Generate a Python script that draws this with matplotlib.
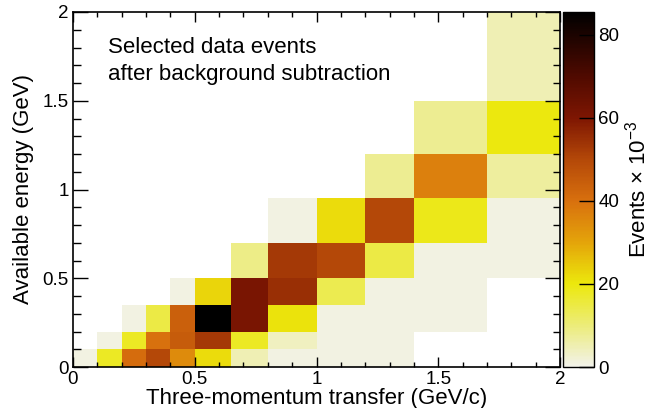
import numpy as np
import matplotlib
matplotlib.use("Agg")
import matplotlib.pyplot as plt
from matplotlib.colors import LinearSegmentedColormap
from matplotlib.ticker import MultipleLocator

plt.rcParams['font.family'] = ['Liberation Sans', 'DejaVu Sans']
plt.rcParams['mathtext.fontset'] = 'custom'
plt.rcParams['mathtext.rm'] = 'Liberation Sans'
plt.rcParams['mathtext.it'] = 'Liberation Sans:italic'

# bin edges (GeV/c and GeV)
q3_edges = [0, 0.1, 0.2, 0.3, 0.4, 0.5, 0.65, 0.8, 1.0, 1.2, 1.4, 1.7, 2.0]
eavail_edges = [0, 0.1, 0.2, 0.35, 0.5, 0.7, 0.95, 1.2, 1.5, 2.0]

# events x 1e-3, one row per energy bin (bottom to top)
events = [
    [1, 18, 41, 50, 35, 22, 5, 1, 1, 1, 0, 0],
    [0, 1, 18, 40, 45, 53, 18, 4, 1, 1, 0, 0],
    [0, 0, 1, 15, 44, 86, 61, 21, 1, 1, 1, 0],
    [0, 0, 0, 0, 1, 23, 61, 55, 14, 1, 1, 0],
    [0, 0, 0, 0, 0, 0, 9, 53, 50, 15, 1, 1],
    [0, 0, 0, 0, 0, 0, 0, 1, 22, 50, 19, 1],
    [0, 0, 0, 0, 0, 0, 0, 0, 0, 8, 37, 7],
    [0, 0, 0, 0, 0, 0, 0, 0, 0, 0, 8, 20],
    [0, 0, 0, 0, 0, 0, 0, 0, 0, 0, 0, 5],
]

zmax = 85.5
cmap = LinearSegmentedColormap.from_list("body", [
    (0 / zmax, "#f2f2ea"),
    (10 / zmax, "#ecec78"),
    (20 / zmax, "#ece80c"),
    (30 / zmax, "#e4a40a"),
    (40 / zmax, "#d8700e"),
    (50 / zmax, "#b44808"),
    (60 / zmax, "#7e1602"),
    (70 / zmax, "#500a00"),
    (1.0, "#000000"),
])

z = np.ma.masked_equal(np.array(events, dtype=float), 0)

fig = plt.figure(figsize=(6.5, 4.08), dpi=100)
ax = fig.add_axes([73 / 650, 1 - 367 / 408, 487 / 650, 355 / 408])
cax = fig.add_axes([563 / 650, 1 - 367 / 408, 31 / 650, 355 / 408])

mesh = ax.pcolormesh(q3_edges, eavail_edges, z, cmap=cmap, vmin=0, vmax=zmax)
ax.set_xlim(0, 2)
ax.set_ylim(0, 2)

for axis in (ax.xaxis, ax.yaxis):
    axis.set_major_locator(MultipleLocator(0.5))
    axis.set_minor_locator(MultipleLocator(0.1))
ax.xaxis.set_major_formatter(plt.FuncFormatter(lambda v, p: f"{v:g}"))
ax.yaxis.set_major_formatter(plt.FuncFormatter(lambda v, p: f"{v:g}"))
ax.tick_params(axis='x', which='both', direction='in', top=True, labelsize=13.5, pad=3)
ax.tick_params(axis='x', which='major', length=7.2, width=1)
ax.tick_params(axis='x', which='minor', length=3.6, width=1)
ax.tick_params(axis='y', which='both', direction='in', right=True, labelsize=13.5, pad=3)
ax.tick_params(axis='y', which='major', length=10.8, width=1)
ax.tick_params(axis='y', which='minor', length=5.4, width=1)
for s in ax.spines.values():
    s.set_linewidth(1.2)

ax.set_xlabel("Three-momentum transfer (GeV/c)", fontsize=16, labelpad=0)
ax.set_ylabel("Available energy (GeV)", fontsize=16, labelpad=6)

ax.text(0.072, 0.93, "Selected data events\nafter background subtraction",
        transform=ax.transAxes, fontsize=16, va='top', ha='left', linespacing=1.4)

cb = fig.colorbar(mesh, cax=cax)
cb.set_ticks([0, 20, 40, 60, 80])
cb.outline.set_linewidth(1)
cax.tick_params(direction='in', length=11, width=1, labelsize=13.5, pad=3)
cb.set_label(r"Events $\times$ 10$^{-3}$", fontsize=16, labelpad=4)

fig.savefig("out.png", dpi=100)
